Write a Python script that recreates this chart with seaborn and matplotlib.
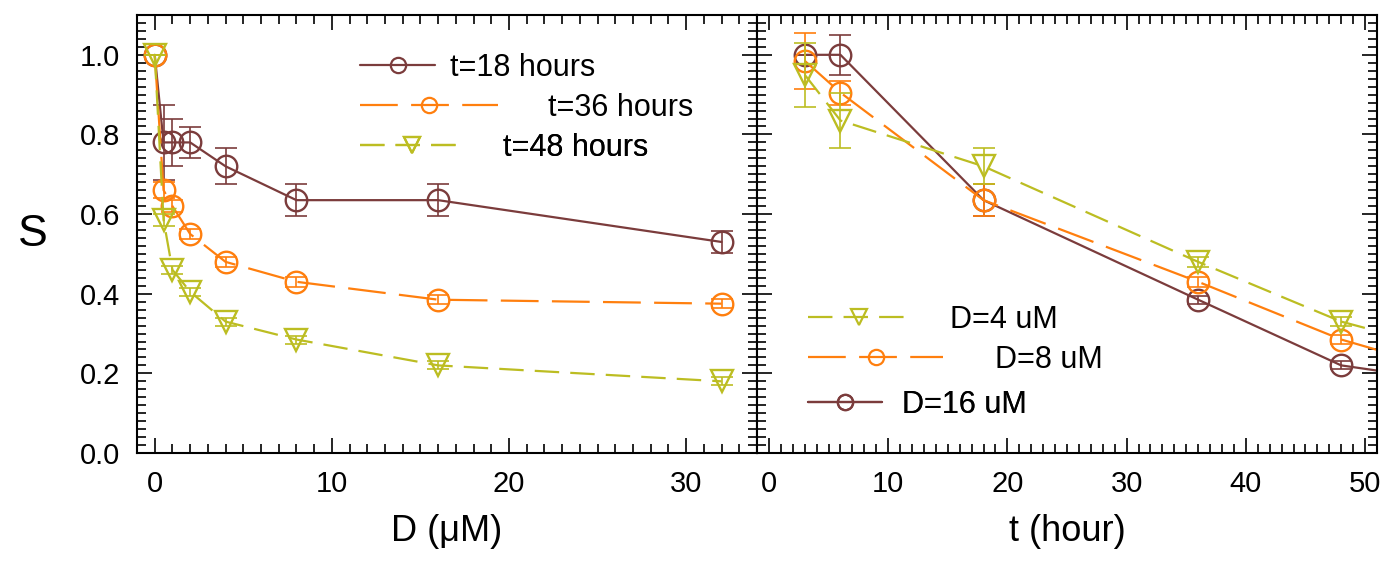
import matplotlib
matplotlib.use("Agg")
import matplotlib.pyplot as plt
from matplotlib.lines import Line2D
from matplotlib.ticker import MultipleLocator
import seaborn as sns
import numpy as np

# left panel: S vs dose D at fixed time
dose = [0, 0.5, 1, 2, 4, 8, 16, 32]
s_t18 = [1.0, 0.78, 0.78, 0.78, 0.72, 0.635, 0.635, 0.53]
e_t18 = [0.0, 0.095, 0.06, 0.038, 0.045, 0.04, 0.04, 0.027]
s_t36 = [1.0, 0.66, 0.62, 0.55, 0.48, 0.43, 0.385, 0.375]
e_t36 = [0.0, 0.02, 0.015, 0.012, 0.012, 0.012, 0.012, 0.012]
s_t48 = [1.0, 0.585, 0.46, 0.405, 0.33, 0.285, 0.22, 0.18]
e_t48 = [0.0, 0.015, 0.01, 0.01, 0.01, 0.01, 0.01, 0.01]

# right panel: S vs time t at fixed dose
hours = [3, 6, 18, 36, 48]
s_d4 = [0.95, 0.835, 0.72, 0.48, 0.33]
e_d4 = [0.08, 0.07, 0.045, 0.012, 0.012]
s_d8 = [0.985, 0.905, 0.635, 0.43, 0.285]
e_d8 = [0.07, 0.03, 0.04, 0.012, 0.012]
s_d16 = [1.0, 1.0, 0.635, 0.385, 0.22]
e_d16 = [0.0, 0.05, 0.04, 0.01, 0.01]
# where the drawn lines run out past the last point
tail_t = [50, 51, 51]
tail_s = [0.314, 0.259, 0.207]

brown = "#7b3c3c"
orange = "#ff7f0e"
olive = "#bcbd22"
solid = "-"
dash_long = (0, (17, 6))
dash_short = (0, (11, 5))

sns.set_theme(style="ticks")
plt.rcParams["font.family"] = ["Liberation Sans", "DejaVu Sans"]
plt.rcParams["text.color"] = "black"
plt.rcParams["axes.labelcolor"] = "black"
plt.rcParams["xtick.color"] = "black"
plt.rcParams["ytick.color"] = "black"

fig = plt.figure(figsize=(13.98, 5.62), dpi=100)
axL = fig.add_axes([137 / 1398, 1 - 453 / 562, 620 / 1398, 438 / 562])
axR = fig.add_axes([757 / 1398, 1 - 453 / 562, 620 / 1398, 438 / 562], sharey=axL)

mk = dict(markersize=15.5, markerfacecolor="none", markeredgewidth=1.7, linewidth=1.6)


def draw(ax, x, y, err, color, marker, ls, tail=None):
    ax.errorbar(x, y, yerr=err, fmt="none", ecolor=color, elinewidth=1.2,
                capsize=8, capthick=1.2)
    sns.lineplot(x=x, y=y, ax=ax, color=color, marker=marker, linestyle=ls,
                 markeredgecolor=color, **mk)
    if tail is not None:
        sns.lineplot(x=[x[-1], tail[0]], y=[y[-1], tail[1]], ax=ax, color=color,
                     linestyle=ls, linewidth=1.6)


draw(axL, dose, s_t18, e_t18, brown, "o", solid)
draw(axL, dose, s_t36, e_t36, orange, "o", dash_long)
draw(axL, dose, s_t48, e_t48, olive, "v", dash_short)

draw(axR, hours, s_d16, e_d16, brown, "o", solid, (tail_t[2], tail_s[2]))
draw(axR, hours, s_d8, e_d8, orange, "o", dash_long, (tail_t[1], tail_s[1]))
draw(axR, hours, s_d4, e_d4, olive, "v", dash_short, (tail_t[0], tail_s[0]))


def one_entry(ax, color, marker, ls, label, x, y, hlen, pad):
    h = Line2D([], [], color=color, marker=marker, linestyle=ls, markeredgecolor=color,
               markersize=11, markerfacecolor="none", markeredgewidth=1.6, linewidth=1.6)
    leg = ax.legend([h], [label], loc="center left", bbox_to_anchor=(x, y),
                    frameon=False, borderpad=0, borderaxespad=0, numpoints=1,
                    handlelength=hlen, handletextpad=pad, fontsize=22)
    ax.add_artist(leg)


one_entry(axL, brown, "o", solid, "t=18 hours", 0.36, 0.879, 2.46, 0.49)
one_entry(axL, orange, "o", dash_long, "t=36 hours", 0.36, 0.788, 4.5, 1.64)
one_entry(axL, olive, "v", dash_short, "t=48 hours", 0.36, 0.696, 3.38, 1.28)

one_entry(axR, olive, "v", dash_short, "D=4 uM", 0.082, 0.304, 3.38, 1.28)
one_entry(axR, orange, "o", dash_long, "D=8 uM", 0.082, 0.212, 4.43, 1.7)
one_entry(axR, brown, "o", solid, "D=16 uM", 0.082, 0.110, 2.43, 0.66)

axL.set_xlim(-1, 34)
axR.set_xlim(-1, 51)
axL.set_ylim(0, 1.1)

for ax in (axL, axR):
    ax.xaxis.set_major_locator(MultipleLocator(10))
    ax.xaxis.set_minor_locator(MultipleLocator(1))
    ax.yaxis.set_major_locator(MultipleLocator(0.2))
    ax.yaxis.set_minor_locator(MultipleLocator(0.02))
    ax.tick_params(which="both", direction="in", top=True, right=True,
                   color="black", width=1.2)
    ax.tick_params(which="major", length=11, labelsize=21, pad=12)
    ax.tick_params(which="minor", length=6.5)
    for sp in ax.spines.values():
        sp.set_linewidth(1.5)
        sp.set_color("black")

axL.yaxis.set_major_formatter(plt.FormatStrFormatter("%.1f"))
axR.tick_params(labelleft=False)

axL.set_ylabel("S", fontsize=32, labelpad=34, rotation=0, va="center")
axL.set_xlabel("D (\u03bcM)", fontsize=26, labelpad=12)
axR.set_xlabel("t (hour)", fontsize=26, labelpad=12)
axR.set_ylabel("")

fig.savefig("out.png", dpi=100)
